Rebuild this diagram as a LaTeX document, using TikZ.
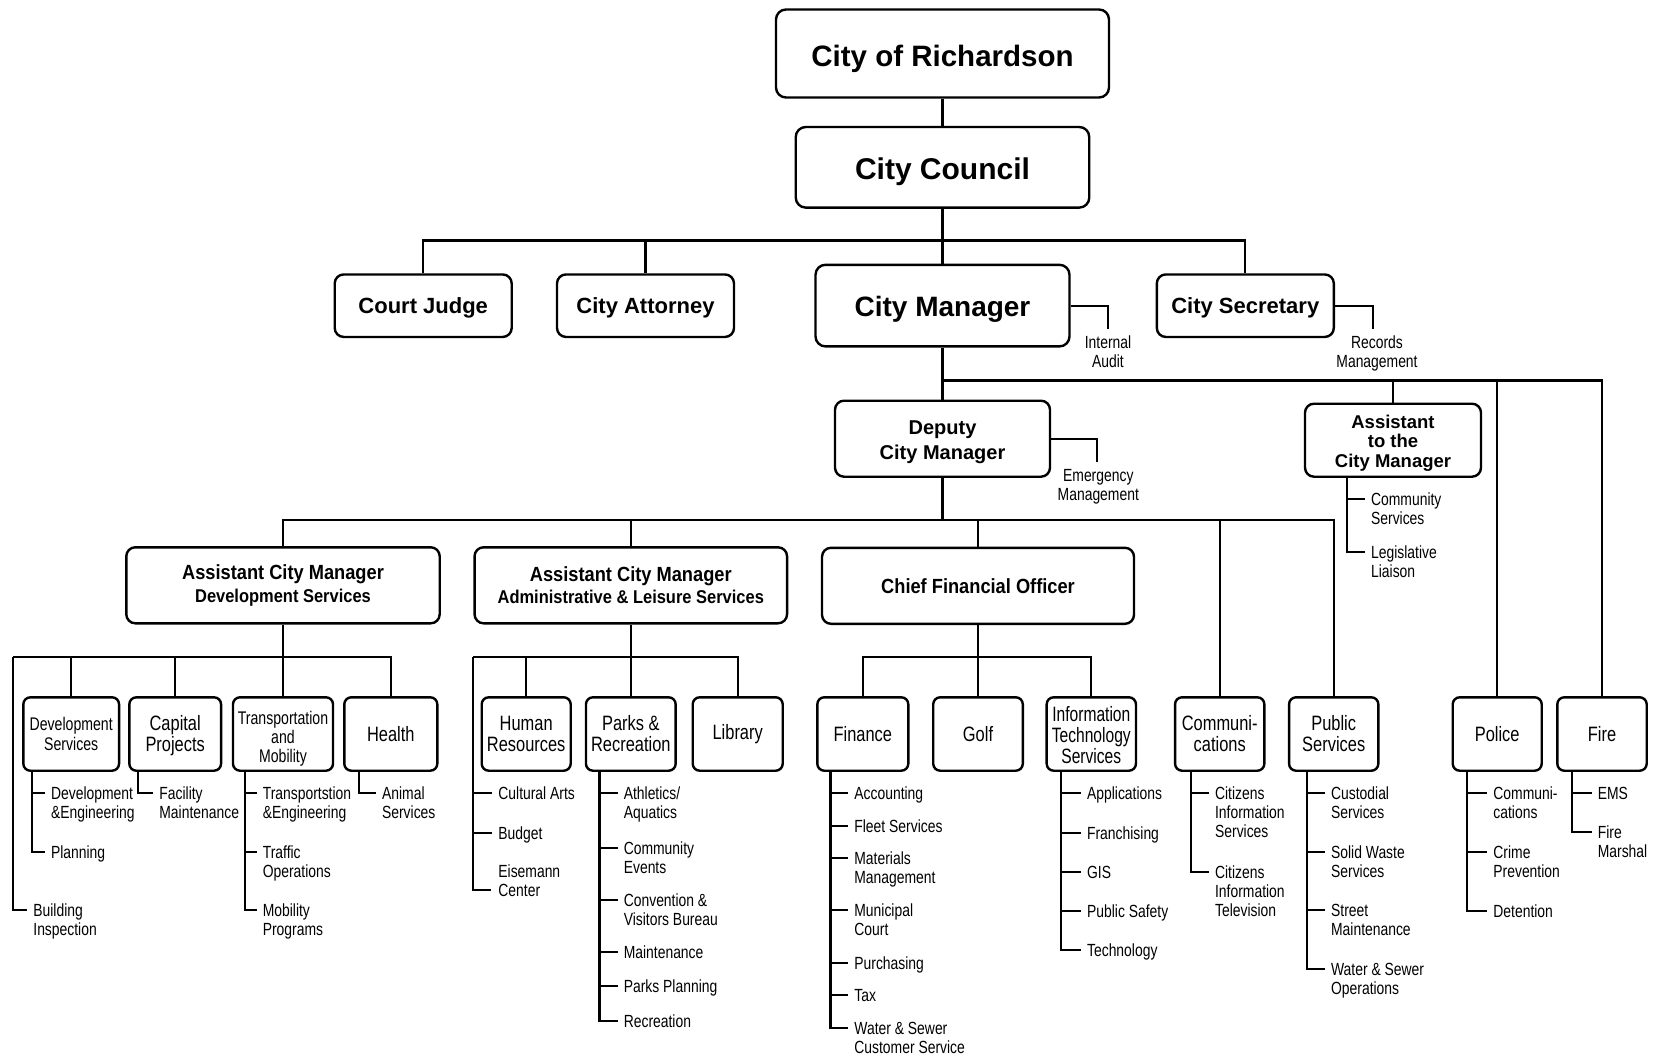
\documentclass[tikz,border=0pt]{standalone}
\usepackage{fontspec}
\setmainfont{Liberation Sans}
\newfontfamily\condf[FakeStretch=0.79]{Liberation Sans}
\newfontfamily\condx[FakeStretch=0.77]{Liberation Sans}
\newfontfamily\condi[FakeStretch=0.75]{Liberation Sans}
\newfontfamily\condbf[FakeStretch=0.89]{Liberation Sans}
\newcommand\orgitem[4]{%
  \node[itm, anchor=base west] (#1) at (#2,#3+6.3) {\begin{tabular}[t]{@{}l@{}}#4\end{tabular}};
  \coordinate (#1t) at ([xshift=-5pt,yshift=6.3pt]#1.base west);}
\newcommand\btext[2]{\raisebox{#1}[\height][\depth]{\begin{tabular}{@{}c@{}}#2\end{tabular}}}
\begin{document}
\begin{tikzpicture}[x=1pt,y=-1pt, line width=2.2pt,
  box/.style={draw, line width=2.4pt, rounded corners=9pt, align=center, inner sep=0pt},
  l3/.style={box, rounded corners=7pt, minimum height=73.4pt, font=\condf\fontsize{20.8}{19.5}\selectfont},
  itm/.style={inner sep=0pt, font=\condf\fontsize{17.6}{19}\selectfont},
  note/.style={inner sep=0pt, font=\condf\fontsize{17.6}{19}\selectfont}]
\fill[white] (0,0) rectangle (1661,1059);
\useasboundingbox (0,0) rectangle (1661,1059);

% top levels
\node[box, minimum width=333pt, minimum height=88pt, rounded corners=10pt, text height=25.9pt, text depth=0pt, font=\bfseries\fontsize{29.5}{32}\selectfont] (rich) at (942.5,53.5) {City of Richardson};
\node[box, minimum width=293.5pt, minimum height=80.6pt, rounded corners=10pt, text height=24pt, text depth=0pt, font=\bfseries\fontsize{30}{32}\selectfont] (council) at (942.5,167.3) {City Council};
\node[box, minimum width=177pt, minimum height=62.5pt, text height=15.7pt, text depth=0pt, font=\bfseries\fontsize{22}{24}\selectfont] (cj) at (423.2,305.7) {Court Judge};
\node[box, minimum width=177pt, minimum height=62.5pt, text height=15.7pt, text depth=0pt, font=\bfseries\fontsize{22}{24}\selectfont] (ca) at (645.5,305.7) {City Attorney};
\node[box, minimum width=254pt, minimum height=81.6pt, rounded corners=10pt, text height=20.9pt, text depth=0pt, font=\bfseries\fontsize{28}{30}\selectfont] (cm) at (942.5,305.6) {City Manager};
\node[box, minimum width=177pt, minimum height=62.5pt, text height=15.7pt, text depth=0pt, font=\bfseries\fontsize{22}{24}\selectfont] (cs) at (1245.3,305.7) {City Secretary};
\node[box, minimum width=215pt, minimum height=76pt, font=\bfseries\fontsize{20}{25}\selectfont] (dcm) at (942.5,438.7) {\btext{-3.7pt}{Deputy\\City Manager}};
\node[box, minimum width=176pt, minimum height=73pt, font=\bfseries\fontsize{18.5}{19.5}\selectfont] (atcm) at (1393,440.2) {\btext{-3.6pt}{Assistant\\to the\\City Manager}};
\node[box, minimum width=313.4pt, minimum height=76pt, font=\condbf\bfseries\fontsize{20.5}{22.6}\selectfont] (acmd) at (283,585.3) {Assistant City Manager\\\fontsize{18.5}{22.6}\selectfont Development Services};
\node[box, minimum width=312.5pt, minimum height=76pt, font=\condbf\bfseries\fontsize{20.5}{22.6}\selectfont] (acma) at (630.8,585.3) {Assistant City Manager\\\fontsize{18.5}{22.6}\selectfont Administrative \& Leisure Services};
\node[box, minimum width=312pt, minimum height=76pt, font=\condbf\bfseries\fontsize{20.5}{22.6}\selectfont] (cfo) at (978,585.8) {Chief Financial Officer};

% notes
\node[note, anchor=base] (ia) at (1108,348.3) {\begin{tabular}[t]{@{}c@{}}Internal\\Audit\end{tabular}};
\coordinate (iaT) at ([yshift=19.3pt]ia.base);
\node[note, anchor=base] (rm) at (1377,348.3) {\begin{tabular}[t]{@{}c@{}}Records\\Management\end{tabular}};
\coordinate (rmT) at ([xshift=-4pt,yshift=19.3pt]rm.base);
\node[note, anchor=base] (em) at (1098.3,481.3) {\begin{tabular}[t]{@{}c@{}}Emergency\\Management\end{tabular}};
\coordinate (emT) at ([xshift=-1.6pt,yshift=19.6pt]em.base);

% level 3 boxes
\node[l3, minimum width=95.7pt, font=\condx\fontsize{18.3}{19.3}\selectfont] (devs) at (71.2,734) {\btext{-2.5pt}{Development\\Services}};
\node[l3, minimum width=91.7pt] (cap) at (175.2,734) {\btext{-2.8pt}{Capital\\Projects}};
\node[l3, minimum width=100pt, font=\condx\fontsize{18.3}{18.3}\selectfont] (trans) at (283,734) {\btext{-5.6pt}{Transportation\\and\\Mobility}};
\node[l3, minimum width=93pt] (health) at (390.8,734) {Health};
\node[l3, minimum width=89pt] (hr) at (526.2,734) {\btext{-2.8pt}{Human\\Resources}};
\node[l3, minimum width=89.7pt] (pr) at (630.8,734) {\btext{-2.8pt}{Parks \&\\Recreation}};
\node[l3, minimum width=90pt] (lib) at (737.7,734) {Library};
\node[l3, minimum width=91pt] (fin) at (862.8,734) {Finance};
\node[l3, minimum width=89.6pt] (golf) at (978,734) {Golf};
\node[l3, minimum width=89.3pt, font=\condi\fontsize{20.8}{19}\selectfont] (it) at (1091.3,734) {\btext{-3.9pt}{Information\\Technology\\Services}};
\node[l3, minimum width=89.3pt] (comm) at (1219.7,734) {\btext{-2.8pt}{Communi-\\cations}};
\node[l3, minimum width=89.3pt] (ps) at (1333.7,734) {\btext{-2.8pt}{Public\\Services}};
\node[l3, minimum width=89pt] (police) at (1497.2,734) {Police};
\node[l3, minimum width=89.4pt] (fire) at (1602,734) {Fire};

% bus coordinates
\coordinate (b1) at (942.5,240.5);
\coordinate (b2) at (942.5,380.5);
\coordinate (b3) at (942.5,520);
\coordinate (b4L) at (13.3,656.8);
\coordinate (b5L) at (473.3,656.8);
\coordinate (b6) at (978,656.8);

% connectors top
\draw (rich) -- (council);
\draw (council.south) -- (cm.north);
\draw (cj.north) -- (cj.north |- b1) -| (cs.north);
\draw (ca.north) -- (ca.north |- b1);
\draw (cm.east) -| (iaT);
\draw (cs.east) -| (rmT);
\draw (cm.south) -- (dcm.north);
\draw (b2) -| (fire.north);
\draw (atcm.north) -- (atcm.north |- b2);
\draw (police.north) -- (police.north |- b2);
\draw (dcm.east) -| (emT);
\draw (dcm.south) -- (b3);
\draw (acmd.north) -- (acmd.north |- b3) -| (ps.north);
\draw (acma.north) -- (acma.north |- b3);
\draw (cfo.north) -- (cfo.north |- b3);
\draw (comm.north) -- (comm.north |- b3);

% dev services bus
\draw (acmd.south) -- (acmd.south |- b4L);
\draw (b4L) -| (health.north);
\draw (devs.north) -- (devs.north |- b4L);
\draw (cap.north) -- (cap.north |- b4L);
\draw (trans.north) -- (trans.north |- b4L);
% admin bus
\draw (acma.south) -- (acma.south |- b5L);
\draw (b5L) -| (lib.north);
\draw (hr.north) -- (hr.north |- b5L);
\draw (pr.north) -- (pr.north |- b5L);
% cfo bus
\draw (cfo.south) -- (golf.north);
\draw (fin.north) -- (fin.north |- b6) -| (it.north);

% ---- lists ----
% assistant to city manager
\orgitem{x1}{1370}{499.3}{Community\\Services}
\orgitem{x2}{1370}{551.7}{Legislative\\Liaison}
\coordinate (atcmS) at (atcm.south -| 1347,0);
\draw (atcmS) |- (x2t);
\draw (atcmS |- x1t) -- (x1t);

% development services
\orgitem{d1}{50}{792.7}{Development\\\&Engineering}
\orgitem{d2}{50}{851.7}{Planning}
\path (devs.south west) ++(10,0) coordinate (devsS);
\draw (devsS) |- (d2t);
\draw (devsS |- d1t) -- (d1t);
% building inspection
\orgitem{bi}{32.3}{910}{Building\\Inspection}
\draw (b4L) |- (bit);
% capital projects
\orgitem{c1}{158.3}{792.7}{Facility\\Maintenance}
\path (cap.south west) ++(10,0) coordinate (capS);
\draw (capS) |- (c1t);
% transportation
\orgitem{t1}{261.7}{792.7}{Transportstion\\\&Engineering}
\orgitem{t2}{261.7}{851.7}{Traffic\\Operations}
\orgitem{t3}{261.7}{910}{Mobility\\Programs}
\path (trans.south west) ++(13,0) coordinate (transS);
\draw (transS) |- (t3t);
\draw (transS |- t1t) -- (t1t);
\draw (transS |- t2t) -- (t2t);
% health
\orgitem{h1}{381}{792.7}{Animal\\Services}
\path (health.south west) ++(15.7,0) coordinate (healthS);
\draw (healthS) |- (h1t);

% admin left
\orgitem{a1}{497.3}{792.7}{Cultural Arts}
\orgitem{a2}{497.3}{832.7}{Budget}
\node[itm, anchor=base west] (a3) at (497.3,877.3) {\begin{tabular}[t]{@{}l@{}}Eisemann\\Center\end{tabular}};
\coordinate (a3t) at ([xshift=-6.5pt,yshift=-12.7pt]a3.base west);
\draw (b5L) |- (a3t);
\draw (b5L |- a1t) -- (a1t);
\draw (b5L |- a2t) -- (a2t);
% parks
\orgitem{p1}{622.7}{792.7}{Athletics/\\Aquatics}
\orgitem{p2}{622.7}{847.7}{Community\\Events}
\orgitem{p3}{622.7}{900}{Convention \&\\Visitors Bureau}
\orgitem{p4}{622.7}{951.7}{Maintenance}
\orgitem{p5}{622.7}{986}{Parks Planning}
\orgitem{p6}{622.7}{1020.7}{Recreation}
\path (pr.south west) ++(14.7,0) coordinate (prS);
\draw (prS) |- (p6t);
\foreach \k in {p1,p2,p3,p4,p5} {\draw (prS |- \k t) -- (\k t);}

% finance
\orgitem{f1}{853.3}{793.3}{Accounting}
\orgitem{f2}{853.3}{825.7}{Fleet Services}
\orgitem{f3}{853.3}{858.3}{Materials\\Management}
\orgitem{f4}{853.3}{910}{Municipal\\Court}
\orgitem{f5}{853.3}{962.7}{Purchasing}
\orgitem{f6}{853.3}{995}{Tax}
\orgitem{f7}{853.3}{1028.3}{Water \& Sewer\\Customer Service}
\path (fin.south west) ++(14.4,0) coordinate (finS);
\draw (finS) |- (f7t);
\foreach \k in {f1,f2,f3,f4,f5,f6} {\draw (finS |- \k t) -- (\k t);}

% IT
\orgitem{i1}{1086}{793.3}{Applications}
\orgitem{i2}{1086}{832.7}{Franchising}
\orgitem{i3}{1086}{871.7}{GIS}
\orgitem{i4}{1086}{910.7}{Public Safety}
\orgitem{i5}{1086}{950}{Technology}
\path (it.south west) ++(15.6,0) coordinate (itS);
\draw (itS) |- (i5t);
\foreach \k in {i1,i2,i3,i4} {\draw (itS |- \k t) -- (\k t);}

% communications
\orgitem{m1}{1214}{793.3}{Citizens\\Information\\Services}
\orgitem{m2}{1214}{872.3}{Citizens\\Information\\Television}
\path (comm.south west) ++(17.3,0) coordinate (commS);
\draw (commS) |- (m2t);
\draw (commS |- m1t) -- (m1t);

% public services
\orgitem{s1}{1330}{793.3}{Custodial\\Services}
\orgitem{s2}{1330}{852.3}{Solid Waste\\Services}
\orgitem{s3}{1330}{910}{Street\\Maintenance}
\orgitem{s4}{1330}{969.3}{Water \& Sewer\\Operations}
\path (ps.south west) ++(19.3,0) coordinate (psS);
\draw (psS) |- (s4t);
\foreach \k in {s1,s2,s3} {\draw (psS |- \k t) -- (\k t);}

% police
\orgitem{o1}{1492.3}{793.3}{Communi-\\cations}
\orgitem{o2}{1492.3}{852.3}{Crime\\Prevention}
\orgitem{o3}{1492.3}{910.7}{Detention}
\path (police.south west) ++(15.6,0) coordinate (polS);
\draw (polS) |- (o3t);
\foreach \k in {o1,o2} {\draw (polS |- \k t) -- (\k t);}

% fire
\orgitem{e1}{1596.7}{793.3}{EMS}
\orgitem{e2}{1596.7}{832.3}{Fire\\Marshal}
\path (fire.south west) ++(16,0) coordinate (fireS);
\draw (fireS) |- (e2t);
\draw (fireS |- e1t) -- (e1t);
\end{tikzpicture}
\end{document}
